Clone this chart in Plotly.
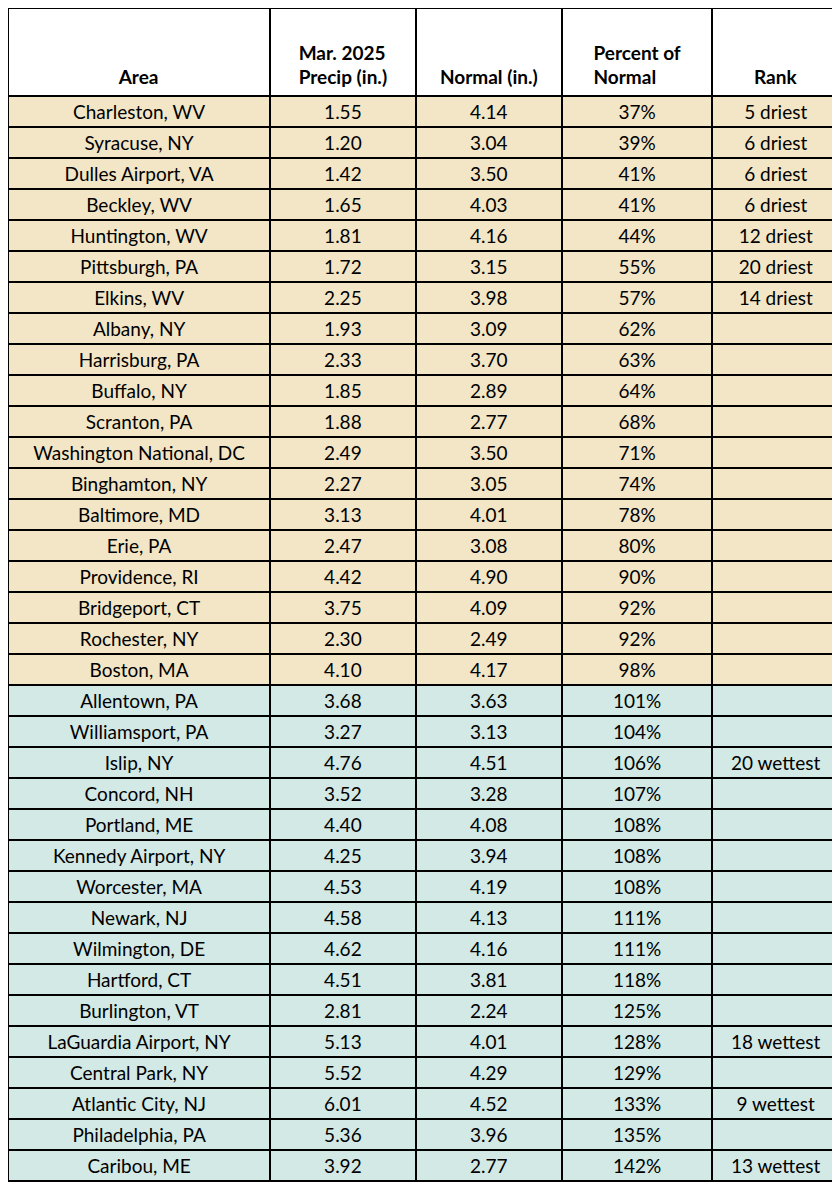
import plotly.graph_objects as go

areas = ["Charleston, WV", "Syracuse, NY", "Dulles Airport, VA", "Beckley, WV", "Huntington, WV",
         "Pittsburgh, PA", "Elkins, WV", "Albany, NY", "Harrisburg, PA", "Buffalo, NY", "Scranton, PA",
         "Washington National, DC", "Binghamton, NY", "Baltimore, MD", "Erie, PA", "Providence, RI",
         "Bridgeport, CT", "Rochester, NY", "Boston, MA", "Allentown, PA", "Williamsport, PA",
         "Islip, NY", "Concord, NH", "Portland, ME", "Kennedy Airport, NY", "Worcester, MA",
         "Newark, NJ", "Wilmington, DE", "Hartford, CT", "Burlington, VT", "LaGuardia Airport, NY",
         "Central Park, NY", "Atlantic City, NJ", "Philadelphia, PA", "Caribou, ME"]
precip = ["1.55", "1.20", "1.42", "1.65", "1.81", "1.72", "2.25", "1.93", "2.33", "1.85", "1.88",
          "2.49", "2.27", "3.13", "2.47", "4.42", "3.75", "2.30", "4.10", "3.68", "3.27", "4.76",
          "3.52", "4.40", "4.25", "4.53", "4.58", "4.62", "4.51", "2.81", "5.13", "5.52", "6.01",
          "5.36", "3.92"]
normal = ["4.14", "3.04", "3.50", "4.03", "4.16", "3.15", "3.98", "3.09", "3.70", "2.89", "2.77",
          "3.50", "3.05", "4.01", "3.08", "4.90", "4.09", "2.49", "4.17", "3.63", "3.13", "4.51",
          "3.28", "4.08", "3.94", "4.19", "4.13", "4.16", "3.81", "2.24", "4.01", "4.29", "4.52",
          "3.96", "2.77"]
pct = [37, 39, 41, 41, 44, 55, 57, 62, 63, 64, 68, 71, 74, 78, 80, 90, 92, 92, 98, 101, 104, 106,
       107, 108, 108, 108, 111, 111, 118, 125, 128, 129, 133, 135, 142]
rank = ["5 driest", "6 driest", "6 driest", "6 driest", "12 driest", "20 driest", "14 driest",
        "", "", "", "", "", "", "", "", "", "", "", "", "", "", "20 wettest", "", "", "", "", "",
        "", "", "", "18 wettest", "", "9 wettest", "", "13 wettest"]
headers = [["Area"], ["Mar. 2025", "Precip (in.)"], ["Normal (in.)"],
           ["Percent of", "Normal"], ["Rank"]]

# push header text down to the bottom of the cell
header_text = []
for h in headers:
    lines = ["&nbsp;"] * (3 - len(h)) + ["<b>%s</b>" % s for s in h]
    header_text.append("<br>".join(lines))

fill = ["#F2E6C6" if p < 100 else "#D3E9E5" for p in pct]
font = "Lato, 'Open Sans', sans-serif"

fig = go.Figure(go.Table(
    columnwidth=[265, 147, 148, 152, 128],
    header=dict(values=header_text, fill_color="white",
                line=dict(color="black", width=2), align="center", height=80,
                font=dict(family=font, size=19, color="black")),
    cells=dict(values=[areas, precip, normal, ["%d%%" % p for p in pct], rank],
               fill_color=[fill] * 5, line=dict(color="black", width=2), align="center",
               height=31, font=dict(family=font, size=19, color="black")),
    domain=dict(x=[0, 0.99], y=[0, 1]),
))
fig.update_layout(width=840, height=1190, margin=dict(l=0, r=0, t=0, b=0),
                  paper_bgcolor="white")
fig.write_html("out.html")
